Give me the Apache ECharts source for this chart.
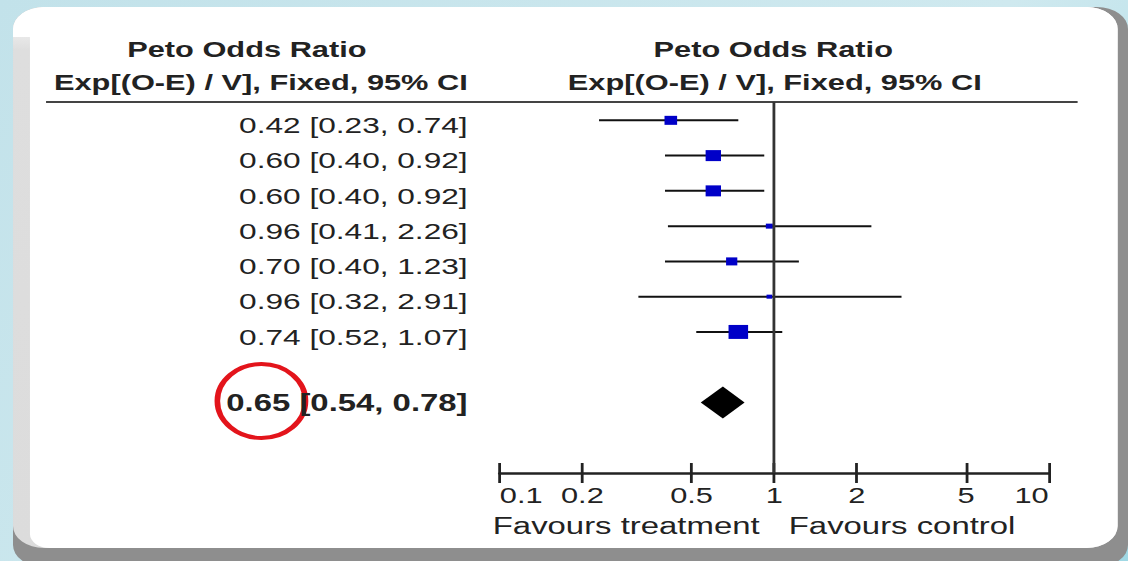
<!DOCTYPE html>
<html><head><meta charset="utf-8">
<script src="https://cdn.jsdelivr.net/npm/echarts@6/dist/echarts.min.js"></script>
<style>
html,body{margin:0;padding:0;overflow:hidden;width:1128px;height:561px;background:linear-gradient(135deg,#c2e2ea 0%,#cfe9ef 60%,#9fd8e4 100%);}
#c{width:806px;height:561px;transform:scaleX(1.39950);transform-origin:0 0;}
</style>
</head><body><div id="c"></div>
<script>
// ---- data ----
const oddsRatio = [0.42, 0.60, 0.60, 0.96, 0.70, 0.96, 0.74];
const ciLower   = [0.23, 0.40, 0.40, 0.41, 0.40, 0.32, 0.52];
const ciUpper   = [0.74, 0.92, 0.92, 2.26, 1.23, 2.91, 1.07];
const weights   = [13.0, 19.4, 19.4, 4.0, 10.3, 2.6, 31.3];   // study weight (%)
const pooledOR = 0.65, pooledLower = 0.54, pooledUpper = 0.78;
const tickValues = [0.1, 0.2, 0.5, 1, 2, 5, 10];
const headerTitle = 'Peto Odds Ratio';
const headerSub = 'Exp[(O-E) / V], Fixed, 95% CI';
const favoursLeft = 'Favours treatment';
const favoursRight = 'Favours control';

// ---- build ----
const pooledRow = oddsRatio.length + 1;
const studyData = oddsRatio.map((v, i) => [ciLower[i], ciUpper[i], v, i, weights[i]]);
const pooledData = [[pooledLower, pooledUpper, pooledOR, pooledRow]];
const labelRows = oddsRatio.map((v, i) => i).concat([pooledRow]);
const f2 = v => v.toFixed(2);
const FONT = '"Liberation Sans", Arial, sans-serif';

const chart = echarts.init(document.getElementById('c'), null, {renderer: 'svg'});
chart.setOption({
  animation: false,
  backgroundColor: 'transparent',
  grid: {left: 357.1, right: 56.7, top: 102, bottom: 88},
  xAxis: [{
    type: 'log', logBase: 10, min: 0.1, max: 10, position: 'bottom',
    axisLine: {onZero: false, lineStyle: {color: '#222', width: 2.5}},
    axisTick: {customValues: tickValues, length: 10, lineStyle: {color: '#222', width: 2}},
    axisLabel: {customValues: tickValues, margin: 12, color: '#222', fontSize: 22, fontFamily: FONT,
      alignMinLabel: 'left', alignMaxLabel: 'right',
      formatter: v => String(+(+v).toPrecision(3))},
    splitLine: {show: false}, minorTick: {show: false}
  }, {
    type: 'log', logBase: 10, min: 0.1, max: 10, position: 'bottom',
    axisLine: {show: false, onZero: false},
    axisTick: {customValues: tickValues, inside: true, length: 10, lineStyle: {color: '#222', width: 2}},
    axisLabel: {show: false}, splitLine: {show: false}
  }],
  yAxis: {
    type: 'value', min: -0.52, max: 10, inverse: true,
    axisLine: {show: false}, axisTick: {show: false}, splitLine: {show: false},
    axisLabel: {
      customValues: labelRows, margin: 23,
      formatter: v => {
        if (v === pooledRow) return '{b|' + f2(pooledOR) + ' [' + f2(pooledLower) + ', ' + f2(pooledUpper) + ']}';
        const i = Math.round(v);
        return '{n|' + f2(oddsRatio[i]) + ' [' + f2(ciLower[i]) + ', ' + f2(ciUpper[i]) + ']}';
      },
      rich: {
        n: {fontSize: 22.6, fontFamily: FONT, color: '#222', padding: [10, 0, 0, 0]},
        b: {fontSize: 23.5, fontFamily: FONT, fontWeight: 'bold', color: '#222'}
      }
    }
  },
  series: [{
    type: 'custom', name: 'studies', xAxisIndex: 0, data: studyData,
    encode: {x: [0, 1, 2], y: 3},
    renderItem: (params, api) => {
      const row = api.value(3);
      const pl = api.coord([api.value(0), row]);
      const ph = api.coord([api.value(1), row]);
      const pc = api.coord([api.value(2), row]);
      const s = 2.5 * Math.sqrt(api.value(4));
      return {type: 'group', children: [
        {type: 'line', shape: {x1: pl[0], y1: pl[1], x2: ph[0], y2: ph[1]}, style: {stroke: '#111', lineWidth: 2}},
        {type: 'rect', shape: {x: pc[0] - s / 2, y: pc[1] - s / 2, width: s, height: s}, style: {fill: '#0000c8'}}
      ]};
    }
  }, {
    type: 'custom', name: 'pooled', xAxisIndex: 0, data: pooledData,
    encode: {x: [0, 1, 2], y: 3},
    renderItem: (params, api) => {
      const row = api.value(3);
      const pl = api.coord([api.value(0), row]);
      const ph = api.coord([api.value(1), row]);
      const pc = api.coord([api.value(2), row]);
      const h = 16;
      return {type: 'polygon', shape: {points: [[pl[0], pl[1]], [pc[0], pc[1] - h], [ph[0], ph[1]], [pc[0], pc[1] + h]]},
        style: {fill: '#000'}};
    },
    markLine: {
      silent: true, symbol: 'none', label: {show: false},
      lineStyle: {color: '#333', width: 2, type: 'solid'},
      data: [{xAxis: 1}]
    }
  }],
  graphic: [
    {type: 'rect', z: -30, shape: {x: 9.3, y: 7, width: 796.7, height: 560, r: 22}, style: {fill: '#8e8e8e'}},
    {type: 'rect', z: -29, shape: {x: 9.3, y: 7, width: 789.3, height: 541, r: 22},
      style: {fill: new echarts.graphic.LinearGradient(0, 0, 0, 1, [{offset: 0, color: '#ffffff'}, {offset: 0.08, color: '#dedede'}, {offset: 1, color: '#dcdcdc'}])}},
    {type: 'rect', z: -28, shape: {x: 21.4, y: 7, width: 777.2, height: 541, r: [22, 22, 22, 14]}, style: {fill: '#ffffff'}},
    {type: 'rect', z: -28, shape: {x: 9.3, y: 7, width: 40, height: 30, r: [22, 0, 0, 0]}, style: {fill: '#ffffff'}},
    {type: 'line', shape: {x1: 32.9, y1: 102, x2: 770, y2: 102}, style: {stroke: '#444', lineWidth: 2}},
    {type: 'text', x: 176.4, y: 50, style: {text: headerTitle, font: 'bold 22px ' + FONT, fill: '#222', align: 'center', verticalAlign: 'middle'}},
    {type: 'text', x: 186.4, y: 83, style: {text: headerSub, font: 'bold 22px ' + FONT, fill: '#222', align: 'center', verticalAlign: 'middle'}},
    {type: 'text', x: 552.5, y: 50, style: {text: headerTitle, font: 'bold 22px ' + FONT, fill: '#222', align: 'center', verticalAlign: 'middle'}},
    {type: 'text', x: 553.6, y: 83, style: {text: headerSub, font: 'bold 22px ' + FONT, fill: '#222', align: 'center', verticalAlign: 'middle'}},
    {type: 'text', x: 352.1, y: 526, style: {text: favoursLeft, font: '23.5px ' + FONT, fill: '#222', align: 'left', verticalAlign: 'middle'}},
    {type: 'text', x: 563.6, y: 526, style: {text: favoursRight, font: '23.5px ' + FONT, fill: '#222', align: 'left', verticalAlign: 'middle'}},
    {type: 'ellipse', shape: {cx: 186.8, cy: 401, rx: 31.5, ry: 37}, style: {fill: 'none', stroke: '#e3141b', lineWidth: 4}}
  ]
});
</script>
</body></html>
